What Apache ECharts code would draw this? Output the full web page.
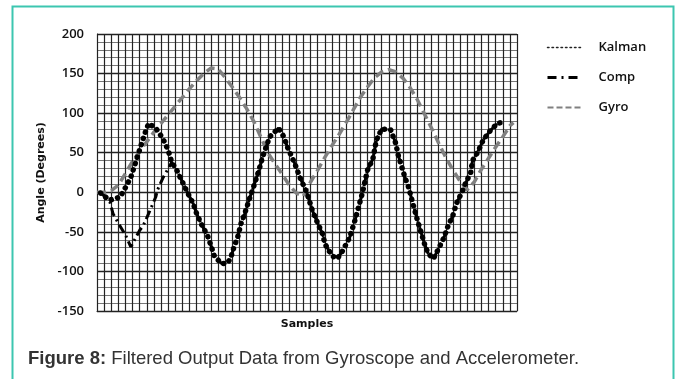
<!DOCTYPE html>
<html>
<head>
<meta charset="utf-8">
<script src="https://cdn.jsdelivr.net/npm/echarts@6/dist/echarts.min.js"></script>
<style>
  html, body { margin: 0; padding: 0; background: #fff; }
  #chart { width: 677px; height: 379px; }
</style>
</head>
<body>
<div id="chart"></div>
<script>
// 采样点 [sample, angle]
const gyro = [
  [0, 0], [4, 0], [8, 2], [12, 9], [16, 24], [20, 39], [24, 52], [28, 64], [32, 76], [36, 87],
  [40, 98], [44, 109], [48, 120], [52, 131], [56, 141], [60, 150], [64, 157], [68, 156], [72, 145],
  [76, 133], [80, 120], [84, 106], [88, 90], [92, 70], [96, 50], [100, 36], [104, 23], [108, 9],
  [112, -1], [116, -5], [120, 13], [124, 28], [128, 44], [132, 59], [136, 73], [140, 88], [144, 104],
  [148, 120], [152, 133], [156, 145], [160, 152], [164, 155], [168, 152], [172, 144], [176, 132],
  [180, 117], [184, 99], [188, 81], [192, 62], [196, 44], [200, 28], [204, 14], [208, 3], [212, 13],
  [216, 29], [220, 43], [224, 57], [228, 70], [232, 84], [234, 88]
];
// Kalman 开头部分
const kalmanHead = [
  [2, -1], [7, -10], [13, -6], [16, 6], [19, 19], [23, 47], [25, 61], [27, 75], [29, 87],
  [33, 81], [37, 68], [40, 53]
];
// Comp 开头部分
const compHead = [
  [2, -1], [7, -10], [9, -27], [12, -39], [16, -54], [19, -69], [24, -48], [26, -42],
  [29, -27], [33, -6], [34, 3], [37, 18]
];
// 两条曲线重合部分
const mainTrace = [
  [42, 38], [45, 27], [48, 13], [51, -1], [54, -14], [56, -27], [59, -42], [62, -54], [64, -67],
  [66, -81], [70, -90], [73, -90], [75, -84], [77, -69], [79, -57], [81, -39], [83, -27], [86, -6],
  [88, 7], [91, 28], [93, 44], [97, 70], [102, 81], [105, 70], [107, 57], [111, 37], [114, 19],
  [118, -1], [121, -23], [124, -39], [127, -54], [128, -65], [132, -80], [135, -84], [138, -74],
  [142, -57], [145, -35], [149, -2], [152, 28], [155, 42], [157, 66], [160, 80], [165, 79],
  [168, 61], [169, 49], [173, 19], [175, 7], [177, -10], [180, -35], [182, -50], [184, -65],
  [186, -77], [189, -84], [192, -71], [195, -57], [197, -44], [200, -29], [202, -14], [205, 0],
  [207, 11], [210, 25], [211, 40], [214, 51], [217, 66], [221, 78], [225, 87], [227, 88]
];
const kalman = kalmanHead.concat(mainTrace);
const comp = compHead.concat(mainTrace);

const chart = echarts.init(document.getElementById('chart'));
chart.setOption({
  animation: false,
  backgroundColor: '#fff',
  grid: { left: 97, right: 160, top: 34, bottom: 68 },
  legend: {
    orient: 'vertical',
    left: 541,
    top: 36,
    itemWidth: 33,
    itemHeight: 14,
    itemGap: 17,
    itemStyle: { opacity: 0 },
    textStyle: { fontFamily: 'Open Sans', fontWeight: 600, fontSize: 13, color: '#111', padding: [0, 0, 0, 13] },
    data: [
      { name: 'Kalman', itemStyle: { opacity: 0 }, lineStyle: { width: 1.5, type: [1.5, 3], color: '#222' } },
      { name: 'Comp', itemStyle: { opacity: 0 }, lineStyle: { width: 3, type: [9, 5, 2, 5], color: '#000' } },
      { name: 'Gyro', itemStyle: { opacity: 0 }, lineStyle: { width: 2, type: [6, 3], color: '#808080' } }
    ]
  },
  xAxis: {
    type: 'value',
    min: 0,
    max: 236,
    interval: 4,
    name: 'Samples',
    nameLocation: 'middle',
    nameGap: 8,
    nameTextStyle: { fontFamily: 'DejaVu Sans', fontWeight: 'bold', fontSize: 11, color: '#111' },
    axisLine: { show: true, onZero: false, lineStyle: { color: '#222' } },
    axisTick: { show: false },
    axisLabel: { show: false },
    splitLine: { show: true, lineStyle: { color: '#222', width: 1.2 } }
  },
  yAxis: {
    type: 'value',
    min: -150,
    max: 200,
    interval: 50,
    name: 'Angle (Degrees)',
    nameLocation: 'middle',
    nameGap: 47,
    nameTextStyle: { fontFamily: 'DejaVu Sans', fontWeight: 'bold', fontSize: 11, color: '#111' },
    axisLine: { show: true, lineStyle: { color: '#222' } },
    axisTick: { show: false },
    axisLabel: { margin: 13, fontFamily: 'Open Sans', fontWeight: 600, fontSize: 13, color: '#111' },
    splitLine: { show: true, lineStyle: { color: '#222', width: 1.4 } },
    minorTick: { show: false, splitNumber: 5 },
    minorSplitLine: { show: true, lineStyle: { color: '#777', width: 1 } }
  },
  series: [
    {
      name: 'Gyro', type: 'line', data: gyro, showSymbol: false, symbol: 'none',
      lineStyle: { color: '#808080', width: 3.5, type: [9, 5] }, itemStyle: { color: '#808080' }, z: 2
    },
    {
      name: 'Comp', type: 'line', data: comp, showSymbol: false, symbol: 'none',
      lineStyle: { color: '#000', width: 3, type: [9, 4, 2, 4] }, itemStyle: { color: '#000' }, z: 3
    },
    {
      name: 'Kalman', type: 'line', data: kalman, showSymbol: false, symbol: 'none',
      lineStyle: { color: '#000', width: 5.5, type: [0.1, 6.5], cap: 'round' }, itemStyle: { color: '#000' }, z: 4
    }
  ],
  graphic: [
    {
      type: 'rect',
      shape: { x: 12.5, y: 6.5, width: 661, height: 420 },
      style: { fill: 'none', stroke: '#3cc6b0', lineWidth: 2 },
      silent: true
    },
    {
      type: 'text',
      left: 28,
      top: 349,
      style: {
        text: '{b|Figure 8:} Filtered Output Data from Gyroscope and Accelerometer.',
        font: '18.5px "Liberation Sans", Arial, sans-serif',
        fill: '#333',
        rich: {
          b: { fontWeight: 'bold', fontSize: 18.5, fontFamily: 'Liberation Sans', fill: '#333' }
        }
      }
    }
  ]
});
</script>
</body>
</html>
